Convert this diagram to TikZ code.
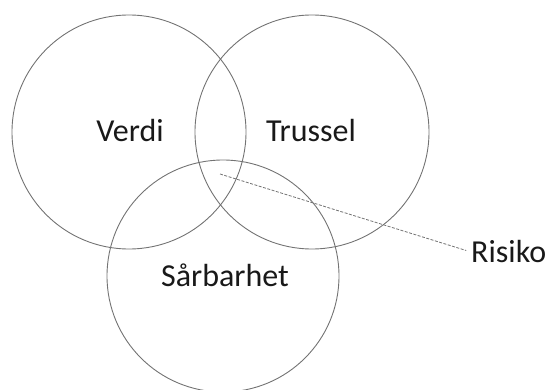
\documentclass[tikz,border=0pt]{standalone}
\usepackage{fontspec}
\setmainfont{Carlito}
\begin{document}
\begin{tikzpicture}[x=1pt,y=-1pt,
  ring/.style={circle,draw=black!55,line width=0.9pt,minimum size=234pt,inner sep=0pt},
  lbl/.style={font=\fontsize{32}{38}\selectfont,text=black!90,inner sep=0pt},
  lead/.style={draw=black!55,dashed,dash pattern=on 3pt off 1.5pt,line width=0.8pt,shorten >=5pt}]
\useasboundingbox (0,0) rectangle (554,390);
\node[ring] (verdi) at (129,132) {};
\node[ring] (trussel) at (312,132) {};
\node[ring,minimum size=232pt] (sarbarhet) at (223,276) {};
\node[lbl] (tverdi) at (130,131) {Verdi};
\node[lbl] (ttrussel) at (311,131) {Trussel};
\node[lbl] (tsarbarhet) at (225,275) {Sårbarhet};
\node[lbl,anchor=west] (risiko) at (471,252) {Risiko};
\coordinate (risk) at (220,174);
\draw[lead] (risk) -- (risiko.west);
\end{tikzpicture}
\end{document}
